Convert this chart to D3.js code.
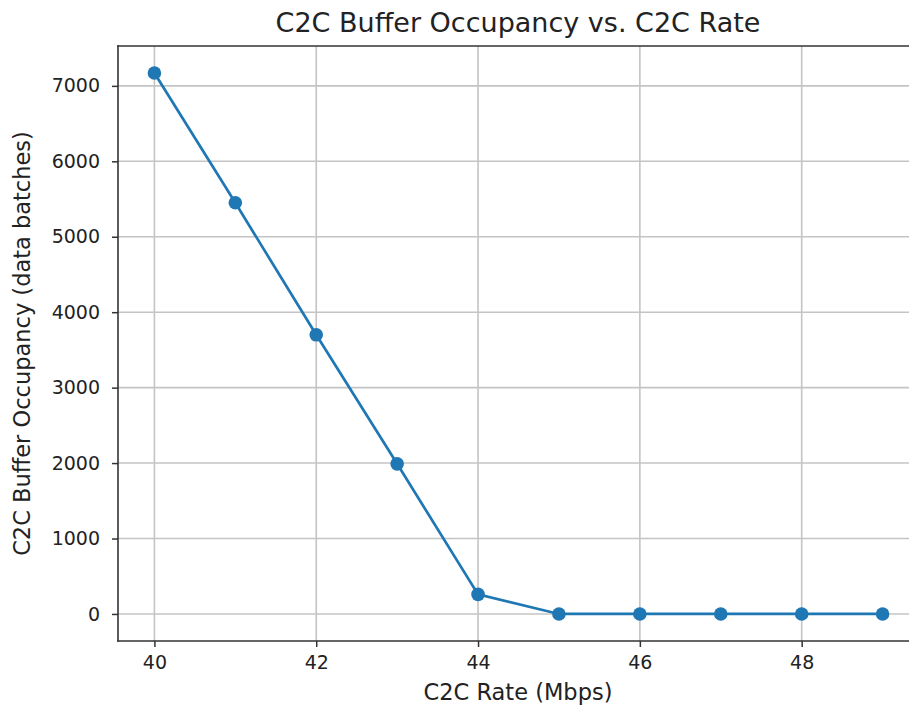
<!DOCTYPE html>
<html>
<head>
<meta charset="utf-8">
<script src="https://cdn.jsdelivr.net/npm/d3@7"></script>
<style>
  body { margin: 0; background: #fff; overflow: hidden; }
  svg { display: block; font-family: 'DejaVu Sans', sans-serif; }
</style>
</head>
<body>
<div id="chart"></div>
<script>
const rates = [40, 41, 42, 43, 44, 45, 46, 47, 48, 49]
const occupancy = [7170, 5450, 3700, 1990, 260, 0, 0, 0, 0, 0]
const xTicks = [40, 42, 44, 46, 48]
const yTicks = [0, 1000, 2000, 3000, 4000, 5000, 6000, 7000]

const width = 909
const height = 711
// the right spine sits just past the picture's edge
const margin = { top: 46, right: -10, bottom: 70, left: 118 }

const svg = d3.select('#chart').append('svg')
  .attr('width', width)
  .attr('height', height)

const innerW = width - margin.left - margin.right
const innerH = height - margin.top - margin.bottom

// matplotlib-style 5% padding on both axes
const xPad = (d3.max(rates) - d3.min(rates)) * 0.05
const yPad = (d3.max(occupancy) - d3.min(occupancy)) * 0.05

const x = d3.scaleLinear()
  .domain([d3.min(rates) - xPad, d3.max(rates) + xPad])
  .range([margin.left, margin.left + innerW])

const y = d3.scaleLinear()
  .domain([d3.min(occupancy) - yPad, d3.max(occupancy) + yPad])
  .range([margin.top + innerH, margin.top])

const g = svg.append('g')

// grid
g.append('g')
  .selectAll('line')
  .data(xTicks)
  .enter()
  .append('line')
  .attr('x1', d => x(d))
  .attr('x2', d => x(d))
  .attr('y1', margin.top)
  .attr('y2', margin.top + innerH)
  .style('stroke', '#c4c4c4')
  .style('stroke-width', '1.6px')

g.append('g')
  .selectAll('line')
  .data(yTicks)
  .enter()
  .append('line')
  .attr('x1', margin.left)
  .attr('x2', width)
  .attr('y1', d => y(d))
  .attr('y2', d => y(d))
  .style('stroke', '#c4c4c4')
  .style('stroke-width', '1.6px')

// axes
const xAxis = d3.axisBottom(x).tickValues(xTicks).tickSize(6).tickPadding(9)
const yAxis = d3.axisLeft(y).tickValues(yTicks).tickSize(6).tickPadding(12).tickFormat(d3.format('d'))

const gx = g.append('g')
  .attr('transform', `translate(0,${margin.top + innerH})`)
  .call(xAxis)
const gy = g.append('g')
  .attr('transform', `translate(${margin.left},0)`)
  .call(yAxis)

;[gx, gy].forEach(a => {
  a.select('.domain').remove()
  a.selectAll('.tick line').style('stroke', '#333').style('stroke-width', '1.5px')
  a.selectAll('.tick text').style('font-size', '19px').style('fill', '#222')
    .style('font-family', "'DejaVu Sans', sans-serif")
})

// spines: left, top, bottom
const spines = [
  [margin.left, margin.top, margin.left, margin.top + innerH],
  [margin.left, margin.top, width, margin.top],
  [margin.left, margin.top + innerH, width, margin.top + innerH]
]
g.append('g')
  .selectAll('line')
  .data(spines)
  .enter()
  .append('line')
  .attr('x1', d => d[0])
  .attr('y1', d => d[1])
  .attr('x2', d => d[2])
  .attr('y2', d => d[3])
  .style('stroke', '#333')
  .style('stroke-width', '1.6px')
  .style('stroke-linecap', 'square')

// data line
const line = d3.line()
  .x((d, i) => x(rates[i]))
  .y(d => y(d))

g.append('path')
  .datum(occupancy)
  .attr('d', line)
  .style('fill', 'none')
  .style('stroke', '#1f77b4')
  .style('stroke-width', '2.7px')

g.append('g')
  .selectAll('circle')
  .data(occupancy)
  .enter()
  .append('circle')
  .attr('cx', (d, i) => x(rates[i]))
  .attr('cy', d => y(d))
  .attr('r', 6.8)
  .style('fill', '#1f77b4')

// labels
svg.append('text')
  .attr('x', 518)
  .attr('y', 31.5)
  .attr('text-anchor', 'middle')
  .style('font-size', '27px')
  .style('fill', '#222')
  .text('C2C Buffer Occupancy vs. C2C Rate')

svg.append('text')
  .attr('x', 518)
  .attr('y', 700)
  .attr('text-anchor', 'middle')
  .style('font-size', '22.5px')
  .style('fill', '#222')
  .text('C2C Rate (Mbps)')

svg.append('text')
  .attr('transform', `translate(30,${margin.top + innerH / 2}) rotate(-90)`)
  .attr('text-anchor', 'middle')
  .style('font-size', '22.5px')
  .style('fill', '#222')
  .text('C2C Buffer Occupancy (data batches)')
</script>
</body>
</html>
